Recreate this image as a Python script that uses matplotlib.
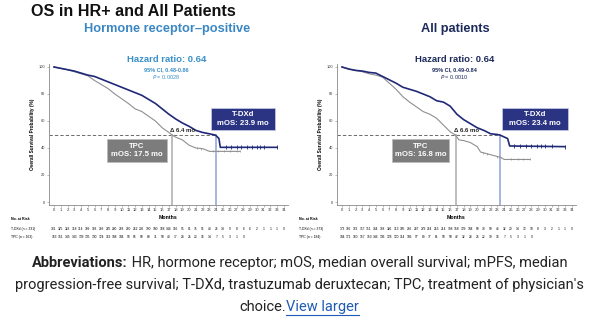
import numpy as np
import matplotlib
matplotlib.use('Agg')
import matplotlib.pyplot as plt
from matplotlib.patches import Rectangle

# ---- data ----
months = list(range(0, 35))

# HR+ panel
hr_tdxd_t = [0, 1, 2, 3, 4, 5, 6, 7, 8, 9, 10, 11, 12, 13, 14, 15, 16, 17, 18, 19, 20, 21, 22, 23, 23.9, 24.4, 24.6, 33]
hr_tdxd_s = [100, 99, 98, 97, 95.5, 94, 93, 91, 89, 87, 85, 83, 81, 79, 76, 73, 69, 65, 61.5, 58.5, 56, 53, 51.5, 50.5, 49.5, 47, 40.5, 40.5]
hr_tpc_t = [0, 1, 2, 3, 4, 5, 6, 7, 8, 9, 10, 11, 12, 13, 14, 15, 16, 17, 17.5, 18, 19, 20, 21, 22, 23, 27.5]
hr_tpc_s = [100, 99, 98, 96.5, 95, 93.5, 90, 87, 84, 80, 76.5, 73, 69, 67, 63.5, 60, 55, 51.5, 49.5, 48, 46, 42, 40, 39.5, 37.5, 37.5]
hr_tdxd_cens = [25.5, 26.2, 27, 27.6, 28.5, 29.3, 30, 30.5, 31, 33]
hr_tpc_cens = [21.2, 21.8, 23.5, 24.3, 25.2, 26, 27, 27.5]
hr_tdxd_risk = [331, 325, 323, 318, 314, 309, 303, 293, 285, 280, 268, 260, 252, 236, 190, 180, 168, 144,
                116, 95, 81, 75, 51, 40, 26, 14, 9, 8, 6, 6, 2, 1, 1, 1, 0]
hr_tpc_risk = [163, 151, 145, 143, 139, 135, 130, 124, 119, 108, 104, 98, 96, 90, 80, 71, 58, 40, 37, 28,
               25, 23, 16, 14, 7, 5, 3, 1, 0]

# All patients panel
all_tdxd_t = [0, 1, 2, 3, 4, 5, 6, 7, 8, 9, 10, 11, 12, 13, 14, 15, 16, 17, 18, 19, 20, 21, 22, 23, 23.4, 24.5, 24.8, 33]
all_tdxd_s = [100, 98.5, 97.5, 97, 96, 95.5, 93, 90.5, 88, 85, 83.5, 82, 80, 78, 75, 74, 71, 65, 61, 58, 55, 53, 50.5, 50, 49.5, 47, 41.5, 41]
all_tpc_t = [0, 1, 2, 3, 4, 5, 6, 7, 8, 9, 10, 11, 12, 13, 14, 15, 16, 16.8, 17.3, 18, 19, 20, 20.5, 22, 23.5, 24, 27.8]
all_tpc_s = [100, 98.5, 97.5, 96.5, 95, 94, 92.5, 88, 83.5, 78, 74, 70.5, 67, 65, 62, 57, 52, 49.5, 46, 45.5, 44, 41, 37, 35, 33, 31.5, 31.5]
all_tdxd_cens = [25.5, 26.3, 27.2, 28, 28.8, 29.5, 30, 31, 33]
all_tpc_cens = [20.8, 21.5, 23, 25, 26, 26.8, 27.8]
all_tdxd_risk = [373, 366, 363, 357, 351, 344, 338, 326, 313, 305, 296, 287, 279, 264, 253, 214, 198, 158,
                 129, 104, 90, 78, 59, 46, 32, 20, 14, 12, 10, 8, 3, 2, 1, 1, 0]
all_tpc_risk = [184, 171, 160, 157, 153, 146, 136, 128, 120, 114, 106, 97, 89, 77, 61, 58, 50, 42, 32, 28,
                26, 22, 19, 16, 7, 5, 3, 1, 0]

panels = [
    dict(left=49, title='Hormone receptor\u2013positive', tcol='#3a87c4', hcol='#3a8fc9',
         hr='Hazard ratio: 0.64', ci='95% CI, 0.48-0.86', p='0.0028',
         t1=hr_tdxd_t, s1=hr_tdxd_s, t2=hr_tpc_t, s2=hr_tpc_s,
         c1=hr_tdxd_cens, c2=hr_tpc_cens, r1=hr_tdxd_risk, r2=hr_tpc_risk,
         n1=331, n2=163, med1=23.9, med2=17.5, delta='6.4',
         box1=(23.2, 53.5, 9.5, 16.3), box2=(7.8, 29.6, 8.9, 17.1)),
    dict(left=337, title='All patients', tcol='#1d2a5c', hcol='#1d2a5c',
         hr='Hazard ratio: 0.64', ci='95% CI, 0.49-0.84', p='0.0010',
         t1=all_tdxd_t, s1=all_tdxd_s, t2=all_tpc_t, s2=all_tpc_s,
         c1=all_tdxd_cens, c2=all_tpc_cens, r1=all_tdxd_risk, r2=all_tpc_risk,
         n1=373, n2=184, med1=23.4, med2=16.8, delta='6.6',
         box1=(23.7, 53.3, 9.7, 16.3), box2=(7.4, 29.6, 8.4, 17.1)),
]

W, H = 599, 321
fig = plt.figure(figsize=(W / 100, H / 100), dpi=100)
fig.patch.set_facecolor('white')
plt.rcParams['font.family'] = ['Liberation Sans', 'DejaVu Sans']

navy = '#1f2978'
gray = '#8f8f8f'
px_per_m = 6.76
px_per_pct = 1.35
x_lo, x_hi = -0.74, 34.6
y_lo, y_hi = -2, 102

fig.text(31 / W, 1 - 11 / H, 'OS in HR+ and All Patients', fontsize=11.6, fontweight='bold',
         color='#111111', ha='left', va='center')

for P in panels:
    aw = (x_hi - x_lo) * px_per_m
    ah = (y_hi - y_lo) * px_per_pct
    bottom_px = 202 + 2 * px_per_pct
    ax = fig.add_axes([P['left'] / W, 1 - bottom_px / H, aw / W, ah / H])
    ax.set_xlim(x_lo, x_hi)
    ax.set_ylim(y_lo, y_hi)
    for s in ['top', 'right']:
        ax.spines[s].set_visible(False)
    for s in ['left', 'bottom']:
        ax.spines[s].set_color('#888888')
        ax.spines[s].set_linewidth(0.6)
    ax.set_xticks(months)
    ax.set_xticklabels([str(m) for m in months], fontsize=3)
    ax.set_yticks([0, 20, 40, 60, 80, 100])
    ax.set_yticklabels(['0', '20', '40', '60', '80', '100'], fontsize=2.8)
    ax.tick_params(length=1.5, width=0.4, pad=1.2, colors='#888888', labelcolor='#333333')
    ax.set_ylabel('Overall Survival Probability (%)', fontsize=3.4, fontweight='bold', labelpad=3)
    ax.set_xlabel('Months', fontsize=3.8, fontweight='bold', labelpad=2)

    # reference lines
    ax.plot([x_lo, P['med1']], [50, 50], ls=(0, (4, 2.5)), color='#555555', lw=0.6)
    ax.plot([P['med2'], P['med2']], [y_lo, 50], color='#b8b8b8', lw=1.3)
    ax.plot([P['med1'], P['med1']], [y_lo, 50], color='#8ea0d8', lw=1.1)

    # curves
    ax.plot(P['t2'], P['s2'], color=gray, lw=0.8, zorder=3)
    ax.plot(P['t1'], P['s1'], color=navy, lw=1.2, zorder=4)
    ax.plot(P['c2'], np.interp(P['c2'], P['t2'], P['s2']), ls='none', marker='|', ms=2, mew=0.5, color=gray, zorder=3)
    ax.plot(P['c1'], np.interp(P['c1'], P['t1'], P['s1']), ls='none', marker='|', ms=2.5, mew=0.6, color=navy, zorder=4)

    ax.text(P['med2'] - 0.3, 50.8, '\u0394 ' + P['delta'] + ' mo', fontsize=4.3, fontweight='bold',
            color='#222222', ha='left', va='bottom', zorder=5)

    # median boxes
    bx, by, bw, bh = P['box1']
    ax.add_patch(Rectangle((bx, by), bw, bh, facecolor='#2b3383', edgecolor='#c9cde8', lw=0.5, zorder=6))
    ax.text(bx + bw / 2, by + bh / 2, 'T-DXd\nmOS: %.1f mo' % P['med1'], color='white', fontsize=5.6,
            fontweight='bold', ha='center', va='center', linespacing=1.3, zorder=7)
    bx, by, bw, bh = P['box2']
    ax.add_patch(Rectangle((bx, by), bw, bh, facecolor='#7c7c7c', edgecolor='#bbbbbb', lw=0.5, zorder=6))
    ax.text(bx + bw / 2, by + bh / 2, 'TPC\nmOS: %.1f mo' % P['med2'], color='white', fontsize=5.6,
            fontweight='bold', ha='center', va='center', linespacing=1.3, zorder=7)

    # hazard ratio block
    hcol = P['hcol']
    cx = 16.6
    ax.text(cx, 105.5, P['hr'], fontsize=6.8, fontweight='bold', color=hcol, ha='center', va='center', clip_on=False)
    ax.text(cx, 98.3, P['ci'], fontsize=4, fontweight='bold', color=hcol, ha='center', va='center', clip_on=False)
    ax.text(cx, 92.5, '$\\it{P}$ = ' + P['p'], fontsize=4, color=hcol, ha='center', va='center', clip_on=False)

    # panel title
    ax.text(16.8, 128, P['title'], fontsize=9.2, fontweight='bold', color=P['tcol'], ha='center', va='center', clip_on=False)

    # number at risk
    xt = ax.get_xaxis_transform()
    ax.text(-6.3, -0.105, 'No. at Risk', fontsize=2.6, fontweight='bold', ha='left', va='center', transform=xt)
    ax.text(-6.3, -0.175, 'T-DXd (n = %d)' % P['n1'], fontsize=2.4, ha='left', va='center', transform=xt)
    ax.text(-6.3, -0.232, 'TPC (n = %d)' % P['n2'], fontsize=2.4, ha='left', va='center', transform=xt)
    for i, v in enumerate(P['r1']):
        ax.text(months[i], -0.175, str(v), fontsize=2.3, ha='center', va='center', transform=xt)
    for i, v in enumerate(P['r2']):
        ax.text(months[i], -0.232, str(v), fontsize=2.3, ha='center', va='center', transform=xt)

# caption
cap_font = ['Roboto', 'DejaVu Sans']
fs = 10.5
txt_col = '#222222'
fig.canvas.draw()
r = fig.canvas.get_renderer()
b1 = fig.text(0, 0, 'Abbreviations:', fontsize=fs, fontweight='bold', family=cap_font, color=txt_col)
rest1 = ' HR, hormone receptor; mOS, median overall survival; mPFS, median'
b2 = fig.text(0, 0, rest1, fontsize=fs, family=cap_font, color=txt_col)
w1 = b1.get_window_extent(r).width
w2 = b2.get_window_extent(r).width
x0 = (W - (w1 + w2)) / 2
y1 = H - 263
b1.set_position((x0 / W, y1 / H))
b2.set_position(((x0 + w1) / W, y1 / H))
b1.set_va('center')
b2.set_va('center')
fig.text(0.5, (H - 285) / H, "progression-free survival; T-DXd, trastuzumab deruxtecan; TPC, treatment of physician's",
         fontsize=fs, family=cap_font, color=txt_col, ha='center', va='center')
c1 = fig.text(0, 0, 'choice.', fontsize=fs, family=cap_font, color=txt_col)
c2 = fig.text(0, 0, 'View larger', fontsize=fs, family=cap_font, color='#1f5bb5')
wc1 = c1.get_window_extent(r).width
wc2 = c2.get_window_extent(r).width
x0 = (W - (wc1 + wc2)) / 2
y3 = H - 307
c1.set_position((x0 / W, y3 / H))
c2.set_position(((x0 + wc1) / W, y3 / H))
c1.set_va('center')
c2.set_va('center')
fig.add_artist(plt.Line2D([(x0 + wc1) / W, (x0 + wc1 + wc2) / W], [(y3 - 7.5) / H, (y3 - 7.5) / H],
                          color='#1f5bb5', lw=0.8))

fig.savefig('out.png', dpi=100)
